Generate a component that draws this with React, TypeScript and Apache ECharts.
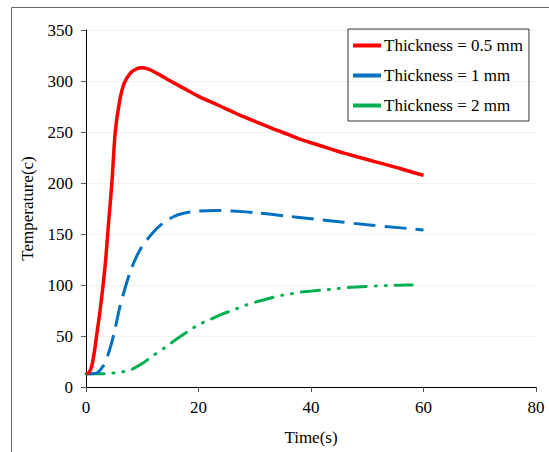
import React, { useEffect, useRef } from "react";
import * as echarts from "echarts";

const seriesNames = ["Thickness = 0.5 mm", "Thickness = 1 mm", "Thickness = 2 mm"];

const thin05: [number, number][] = [
  [0, 13], [0.5, 14], [1, 20], [1.5, 35], [2, 55], [2.5, 75], [3, 98], [3.5, 125], [4, 160],
  [4.6, 200], [5.2, 250], [6, 281], [6.8, 298], [8, 308.5], [9, 312], [10, 313], [11, 311.8],
  [12, 309.3], [13, 306.3], [14, 303.2], [15, 300], [16, 297], [17, 294], [18, 291], [19, 288],
  [20, 285], [22, 280], [24, 275], [26, 270], [28, 265], [30, 260.5], [32, 256], [34, 251.5],
  [36, 247.5], [38, 243], [40, 239.5], [42, 236], [44, 232.5], [46, 229], [48, 226], [50, 223],
  [52, 220], [54, 217], [56, 214], [58, 210.5], [60, 207.5],
];

const thin1: [number, number][] = [
  [0, 13], [1, 13], [2, 14], [3, 20], [4, 33], [5, 53], [6, 78], [7, 98], [8, 115], [9, 128],
  [10, 138], [12, 152], [14, 162], [16, 168], [18, 171], [20, 172.5], [23, 173], [26, 172.5],
  [30, 171], [35, 168], [40, 165], [45, 162], [50, 159], [55, 156.5], [60, 154],
];

const thin2: [number, number][] = [
  [0, 13], [2, 13], [4, 13.3], [6, 14.5], [8, 17], [10, 23], [12, 31], [14, 38.5], [16, 46.5],
  [18, 54], [20, 61], [22, 66], [24, 71], [26, 75], [28, 79.5], [30, 83], [32, 86], [34, 89],
  [36, 91], [38, 93], [40, 94], [42, 95], [44, 96], [46, 97.3], [48, 98], [50, 98.7],
  [52, 99.2], [54, 99.5], [56, 99.8], [58, 100],
];

const colors = ["#ff0000", "#0070c0", "#00b050"];
const FONT = "'Liberation Serif', 'Times New Roman', serif";

export default function App() {
  const ref = useRef<HTMLDivElement>(null);
  useEffect(() => {
    document.body.style.margin = "0";
    if (!ref.current) return;
    const chart = echarts.init(ref.current, undefined, { renderer: "svg" });
    chart.setOption({
      animation: false,
      backgroundColor: "#ffffff",
      textStyle: { fontFamily: FONT },
      grid: { left: 86, right: 13, top: 30, bottom: 65 },
      graphic: [
        {
          type: "rect",
          shape: { x: 11.5, y: 7.5, width: 600, height: 500 },
          style: { fill: "none", stroke: "#666", lineWidth: 1 },
          silent: true,
          z: -1,
        },
      ],
      legend: {
        orient: "vertical",
        left: 348,
        top: 29,
        padding: [8, 6, 7, 5],
        itemGap: 13,
        itemWidth: 28,
        itemHeight: 4,
        icon: "rect",
        borderColor: "#333",
        borderWidth: 1,
        borderRadius: 0,
        textStyle: { fontFamily: FONT, fontSize: 17, color: "#000", padding: [0, 0, 0, -2] },
        data: seriesNames,
      },
      xAxis: {
        type: "value",
        min: 0,
        max: 80,
        interval: 20,
        name: "Time(s)",
        nameLocation: "middle",
        nameGap: 42,
        nameTextStyle: { fontFamily: FONT, fontSize: 17, color: "#000" },
        axisLine: { show: true, lineStyle: { color: "#000", width: 1 } },
        axisTick: { show: true, inside: false, length: 5, lineStyle: { color: "#555" } },
        axisLabel: { fontFamily: FONT, fontSize: 17, color: "#000", margin: 12 },
        splitLine: { show: false },
      },
      yAxis: {
        type: "value",
        min: 0,
        max: 350,
        interval: 50,
        name: "Temperature(c)",
        nameLocation: "middle",
        nameGap: 50,
        nameTextStyle: { fontFamily: FONT, fontSize: 17, color: "#000" },
        axisLine: { show: true, lineStyle: { color: "#000", width: 1 } },
        axisTick: { show: true, inside: false, length: 5, lineStyle: { color: "#555" } },
        axisLabel: { fontFamily: FONT, fontSize: 17, color: "#000", margin: 13 },
        splitLine: { show: true, lineStyle: { color: "#f0f0f0", width: 1 } },
      },
      series: [
        {
          name: seriesNames[0],
          type: "line",
          data: thin05,
          showSymbol: false,
          smooth: 0.3,
          color: colors[0],
          lineStyle: { color: colors[0], width: 3.5 },
          z: 3,
        },
        {
          name: seriesNames[1],
          type: "line",
          data: thin1,
          showSymbol: false,
          smooth: 0.3,
          color: colors[1],
          lineStyle: { color: colors[1], width: 3, type: [22, 9] },
          z: 2,
        },
        {
          name: seriesNames[2],
          type: "line",
          data: thin2,
          showSymbol: false,
          smooth: 0.3,
          color: colors[2],
          lineStyle: { color: colors[2], width: 3, type: [18, 9, 1, 9, 1, 9], cap: "round" },
          z: 1,
        },
      ],
    });
    return () => chart.dispose();
  }, []);
  return <div ref={ref} style={{ width: 549, height: 452 }} />;
}
